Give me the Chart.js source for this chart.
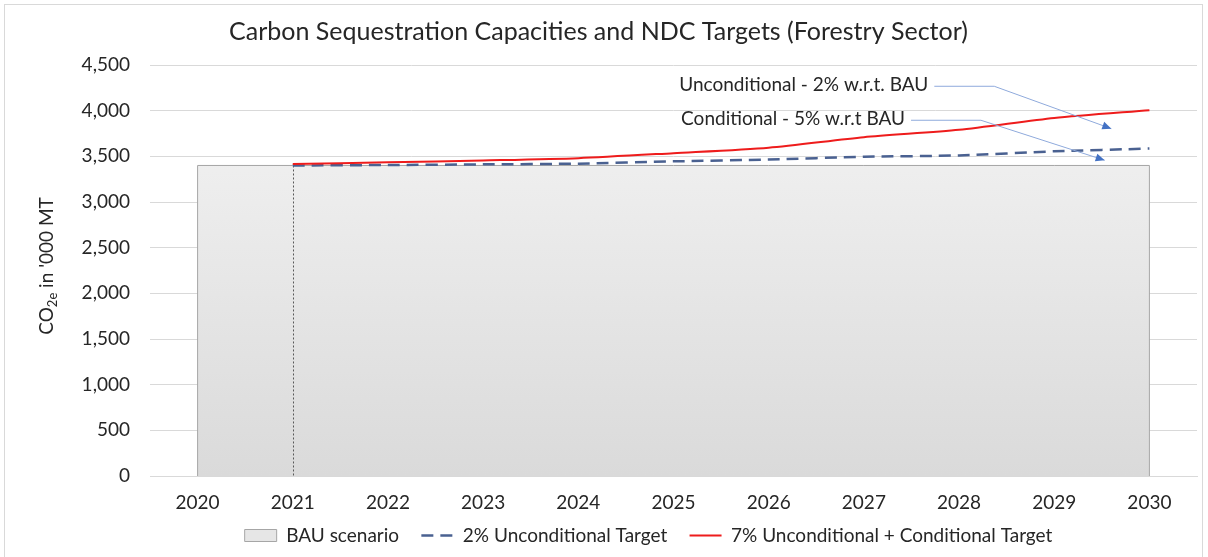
<!DOCTYPE html>
<html lang="en">
<head>
    <meta charset="UTF-8">
    <title>Carbon Sequestration Capacities and NDC Targets</title>
    <script src="https://cdn.jsdelivr.net/npm/chart.js"></script>
    <style>
        body {
            margin: 0;
            padding: 0;
            background-color: #ffffff;
        }

        .chart-box {
            position: relative;
            width: 1208px;
            height: 557px;
        }
    </style>
</head>
<body>

<div class="chart-box">
    <canvas id="ndcChart"></canvas>
</div>

<script>
    // Dados
    const years = ['2020', '2021', '2022', '2023', '2024', '2025', '2026', '2027', '2028', '2029', '2030'];
    const bauScenario = [3400, 3400, 3400, 3400, 3400, 3400, 3400, 3400, 3400, 3400, 3400];
    const unconditional2 = [null, 3400, 3405, 3412, 3420, 3445, 3465, 3495, 3510, 3555, 3585];
    const combined7 = [null, 3415, 3435, 3455, 3480, 3535, 3595, 3710, 3790, 3920, 4005];
    const yTicks = [0, 500, 1000, 1500, 2000, 2500, 3000, 3500, 4000, 4500];

    // Callouts: texto, ancoragem do texto (índice do ano, valor), cotovelo e ponta da seta
    const callouts = [
        { text: 'Unconditional - 2% w.r.t. BAU', at: [5.06, 4278], elbow: 8.37, tip: [9.60, 3803] },
        { text: 'Conditional - 5% w.r.t BAU', at: [5.08, 3906], elbow: 8.23, tip: [9.53, 3457] }
    ];

    const fontFamily = "Lato, 'Open Sans', sans-serif";

    // Plugin para moldura, bordas laterais da área, linha pontilhada 2021, título do eixo Y e callouts
    const extrasPlugin = {
        id: 'extras',
        afterLayout(chart) {
            // legenda um pouco deslocada para a direita, como no original
            chart.legend.left += 50;
            chart.legend.right += 50;
        },
        beforeDraw(chart) {
            const ctx = chart.ctx;
            ctx.save();
            ctx.strokeStyle = '#d9d9d9';
            ctx.lineWidth = 1;
            ctx.strokeRect(4.5, 4.5, 1198, 560);
            ctx.restore();
        },
        afterDatasetDraw(chart, args) {
            if (args.index !== 0) return;
            const ctx = chart.ctx;
            const pts = chart.getDatasetMeta(0).data;
            const y0 = chart.scales.y.getPixelForValue(0);
            ctx.save();
            ctx.strokeStyle = '#a6a6a6';
            ctx.lineWidth = 1;
            ctx.beginPath();
            ctx.moveTo(pts[0].x, y0);
            ctx.lineTo(pts[0].x, pts[0].y);
            ctx.moveTo(pts[pts.length - 1].x, y0);
            ctx.lineTo(pts[pts.length - 1].x, pts[pts.length - 1].y);
            ctx.stroke();
            // linha pontilhada em 2021
            ctx.strokeStyle = '#595959';
            ctx.setLineDash([2, 2]);
            ctx.beginPath();
            ctx.moveTo(Math.round(pts[1].x) + 0.5, pts[1].y);
            ctx.lineTo(Math.round(pts[1].x) + 0.5, y0);
            ctx.stroke();
            ctx.restore();
        },
        afterDraw(chart) {
            const ctx = chart.ctx;
            const xs = chart.scales.x;
            const ys = chart.scales.y;

            // Título do eixo Y com subscrito
            ctx.save();
            ctx.translate(47, 266);
            ctx.rotate(-Math.PI / 2);
            ctx.fillStyle = '#262626';
            ctx.textBaseline = 'middle';
            const big = '19px ' + fontFamily;
            const small = '13px ' + fontFamily;
            ctx.font = big;
            const w1 = ctx.measureText('CO').width;
            const w3 = ctx.measureText(" in '000 MT").width;
            ctx.font = small;
            const w2 = ctx.measureText('2e').width;
            let x = -(w1 + w2 + w3) / 2;
            ctx.font = big;
            ctx.fillText('CO', x, 0);
            ctx.font = small;
            ctx.fillText('2e', x + w1, 6);
            ctx.font = big;
            ctx.fillText(" in '000 MT", x + w1 + w2, 0);
            ctx.restore();

            // Callouts com setas
            ctx.save();
            ctx.font = '19px ' + fontFamily;
            ctx.textBaseline = 'middle';
            callouts.forEach(c => {
                const tx = xs.getPixelForValue(c.at[0]);
                const ty = ys.getPixelForValue(c.at[1]);
                ctx.fillStyle = '#262626';
                ctx.fillText(c.text, tx, ty);
                const sx = tx + ctx.measureText(c.text).width + 6;
                const ex = xs.getPixelForValue(c.elbow);
                const px = xs.getPixelForValue(c.tip[0]);
                const py = ys.getPixelForValue(c.tip[1]);
                ctx.strokeStyle = '#8faadc';
                ctx.lineWidth = 1;
                ctx.beginPath();
                ctx.moveTo(sx, ty + 1);
                ctx.lineTo(ex, ty + 1);
                ctx.lineTo(px, py);
                ctx.stroke();
                const ang = Math.atan2(py - (ty + 1), px - ex);
                const len = 9, half = 4;
                ctx.fillStyle = '#4472c4';
                ctx.beginPath();
                ctx.moveTo(px, py);
                ctx.lineTo(px - len * Math.cos(ang) + half * Math.sin(ang), py - len * Math.sin(ang) - half * Math.cos(ang));
                ctx.lineTo(px - len * Math.cos(ang) - half * Math.sin(ang), py - len * Math.sin(ang) + half * Math.cos(ang));
                ctx.closePath();
                ctx.fill();
            });
            ctx.restore();
        }
    };

    const ctxNdc = document.getElementById('ndcChart').getContext('2d');
    new Chart(ctxNdc, {
        type: 'line',
        data: {
            labels: years,
            datasets: [
                {
                    label: 'BAU scenario',
                    data: bauScenario,
                    fill: 'origin',
                    borderColor: '#a6a6a6',
                    borderWidth: 1,
                    backgroundColor: (context) => {
                        const area = context.chart.chartArea;
                        if (!area) return '#e6e6e6';
                        const g = context.chart.ctx.createLinearGradient(0, area.top, 0, area.bottom);
                        g.addColorStop(0, '#f5f5f5');
                        g.addColorStop(1, '#dadada');
                        return g;
                    },
                    pointRadius: 0,
                    pointStyle: 'rect',
                    tension: 0,
                    order: 3
                },
                {
                    label: '2% Unconditional Target',
                    data: unconditional2,
                    borderColor: '#4a6191',
                    backgroundColor: '#4a6191',
                    borderWidth: 2.5,
                    borderDash: [12, 7],
                    pointRadius: 0,
                    pointStyle: 'line',
                    fill: false,
                    tension: 0.25,
                    order: 2
                },
                {
                    label: '7% Unconditional + Conditional Target',
                    data: combined7,
                    borderColor: '#ee1c1c',
                    backgroundColor: '#ee1c1c',
                    borderWidth: 2,
                    pointRadius: 0,
                    pointStyle: 'line',
                    fill: false,
                    tension: 0.25,
                    order: 1
                }
            ]
        },
        options: {
            responsive: true,
            maintainAspectRatio: false,
            animation: false,
            layout: {
                padding: { left: 0, right: 11, top: 0, bottom: 2 }
            },
            plugins: {
                title: {
                    display: true,
                    text: 'Carbon Sequestration Capacities and NDC Targets (Forestry Sector)',
                    color: '#262626',
                    font: { family: fontFamily, size: 25, weight: 'normal' },
                    padding: { top: 17, bottom: 18 }
                },
                legend: {
                    position: 'bottom',
                    labels: {
                        usePointStyle: true,
                        pointStyleWidth: 32,
                        boxHeight: 12,
                        color: '#262626',
                        padding: 8,
                        font: { family: fontFamily, size: 19 },
                        // ordem dos datasets e tracejado no símbolo da legenda
                        generateLabels: (chart) => chart.data.datasets.map((ds, i) => ({
                            text: i < chart.data.datasets.length - 1 ? ds.label + '\u2003' : ds.label,
                            fillStyle: i === 0 ? '#e6e6e6' : ds.borderColor,
                            strokeStyle: ds.borderColor,
                            lineWidth: ds.borderWidth,
                            lineDash: ds.borderDash || [],
                            pointStyle: ds.pointStyle,
                            fontColor: '#262626',
                            hidden: false,
                            datasetIndex: i
                        }))
                    }
                },
                tooltip: { enabled: false }
            },
            scales: {
                x: {
                    offset: true,
                    afterFit: (scale) => { scale.height = 42; },
                    grid: { display: false, drawTicks: false },
                    border: { display: true, color: '#d9d9d9', width: 1 },
                    ticks: {
                        color: '#262626',
                        padding: 15,
                        font: { family: fontFamily, size: 19 }
                    }
                },
                y: {
                    min: 0,
                    max: 4500,
                    afterFit: (scale) => { scale.width = 150; },
                    afterBuildTicks: (scale) => { scale.ticks = yTicks.map(v => ({ value: v })); },
                    grid: { color: '#d9d9d9', drawTicks: false },
                    border: { display: false },
                    ticks: {
                        color: '#262626',
                        padding: 20,
                        font: { family: fontFamily, size: 19 },
                        callback: (v) => v.toLocaleString('en-US')
                    }
                }
            }
        },
        plugins: [extrasPlugin]
    });
</script>
</body>
</html>
